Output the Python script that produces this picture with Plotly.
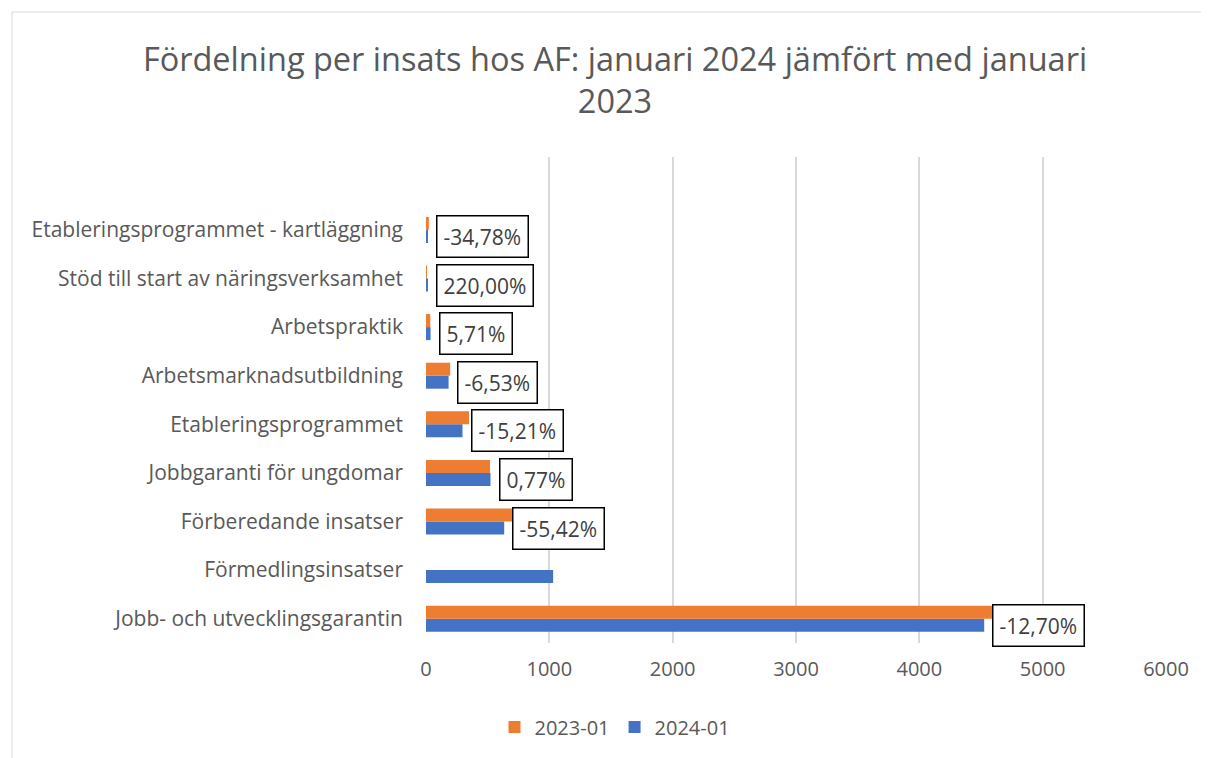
import plotly.graph_objects as go

# Data (bottom to top order for Plotly's categorical y axis)
categories = [
    "Jobb- och utvecklingsgarantin",
    "Förmedlingsinsatser",
    "Förberedande insatser",
    "Jobbgaranti för ungdomar",
    "Etableringsprogrammet",
    "Arbetsmarknadsutbildning",
    "Arbetspraktik",
    "Stöd till start av näringsverksamhet",
    "Etableringsprogrammet - kartläggning",
]
values_2023 = [5185, 0, 1422, 519, 349, 196, 35, 5, 23]
values_2024 = [4526, 1031, 634, 523, 296, 183, 37, 16, 15]
change_labels = ["-12,70%", "", "-55,42%", "0,77%", "-15,21%", "-6,53%", "5,71%", "220,00%", "-34,78%"]
x_ticks = [0, 1000, 2000, 3000, 4000, 5000, 6000]

FONT = "Open Sans"
GREY = "#595959"
ORANGE = "#ED7D31"
BLUE = "#4472C4"

OFF = 8  # page body margin
W, H = 1209 - OFF, 758 - OFF

fig = go.Figure()
fig.add_trace(go.Bar(y=categories, x=values_2024, orientation="h", name="2024-01",
                     marker=dict(color=BLUE, line=dict(width=0))))
fig.add_trace(go.Bar(y=categories, x=values_2023, orientation="h", name="2023-01",
                     marker=dict(color=ORANGE, line=dict(width=0))))

for cat, v, lab in zip(categories, values_2024, change_labels):
    if not lab:
        continue
    fig.add_annotation(x=v, y=cat, xref="x", yref="y", text=lab, showarrow=False,
                       xanchor="left", yanchor="middle", xshift=8, yshift=-6.5,
                       font=dict(family=FONT, size=21, color="#404040"),
                       bgcolor="white", bordercolor="black", borderwidth=1.5, borderpad=6)

# plot area in page pixel coordinates
PX0, PX1, PY0, PY1 = 426, 1166, 157, 643
L, T = PX0 - OFF, PY0 - OFF
R, B = W - (PX1 - OFF), H - (PY1 - OFF)
pw, ph = PX1 - PX0, PY1 - PY0

# outer chart border (page coords: left 12, top 12)
fig.add_shape(type="rect", xref="paper", yref="paper",
              x0=(12 - PX0) / pw, x1=(1240 - PX0) / pw,
              y0=-(800 - PY1) / ph, y1=1 + (PY0 - 12) / ph,
              line=dict(color="#d9d9d9", width=1), fillcolor="rgba(0,0,0,0)", layer="below")

fig.update_layout(
    width=W, height=H,
    margin=dict(l=L, r=R, t=T, b=B),
    paper_bgcolor="white", plot_bgcolor="white",
    barmode="group", bargap=0.465, bargroupgap=0,
    title=dict(text="Fördelning per insats hos AF: januari 2024 jämfört med januari<br>2023",
               x=(615 - OFF) / W, xanchor="center", xref="container",
               y=1 - 63 / H, yanchor="top", yref="container",
               font=dict(family=FONT, size=32.5, color=GREY)),
    xaxis=dict(range=[0, 6000], tickvals=x_ticks, showgrid=True, gridcolor="#d9d9d9", gridwidth=1.5,
               zeroline=False, showline=False, ticks="", ticklabelstandoff=12,
               tickfont=dict(family=FONT, size=20, color=GREY)),
    yaxis=dict(type="category", range=[-0.5, 9.5], showgrid=False, zeroline=False, showline=False,
               ticks="", ticklabelstandoff=22,
               tickfont=dict(family=FONT, size=21, color=GREY)),
    showlegend=True,
    legend=dict(orientation="h", traceorder="reversed", xref="container", yref="container",
                x=(615 - OFF) / W, xanchor="center", y=1 - (727 - OFF) / H, yanchor="middle",
                font=dict(family=FONT, size=20, color=GREY)),
)

fig.write_html("out.html")
